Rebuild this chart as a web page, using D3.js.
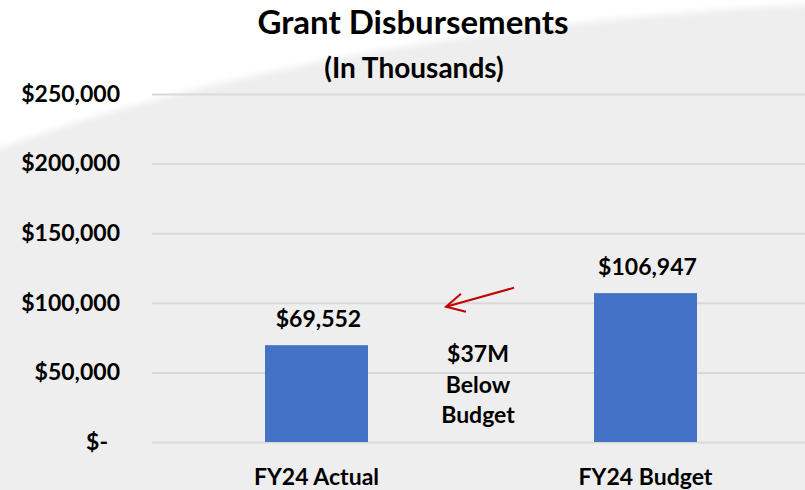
<!DOCTYPE html>
<html>
<head>
<meta charset="utf-8">
<script src="https://cdn.jsdelivr.net/npm/d3@7"></script>
<style>
  html, body { margin: 0; padding: 0; background: #eeeeee; }
  svg { display: block; }
  text { font-family: Lato, "Open Sans", sans-serif; font-weight: bold; fill: #000; }
</style>
</head>
<body>
<div id="output"></div>
<script>
const categories = ["FY24 Actual", "FY24 Budget"];
const values = [69552, 106947];
const tickValues = [0, 50000, 100000, 150000, 200000, 250000];
const noteLines = ["$37M", "Below", "Budget"];

function draw() {
    const w = 805;
    const h = 490;
    const svg = d3.select("#output").append("svg").attr("width", w).attr("height", h);

    // background: grey with a white sweep at the top left
    svg.append("rect").attr("width", w).attr("height", h).style("fill", "#eeeeee");
    const defs = svg.append("defs");
    defs.append("filter").attr("id", "soft")
        .append("feGaussianBlur").attr("stdDeviation", 3);
    svg.append("path")
        .attr("d", "M-10,-10 H815 V4 Q320,30 -10,152 Z")
        .style("fill", "#ffffff")
        .attr("filter", "url(#soft)");

    const y = d3.scaleLinear().domain([0, 250000]).range([442, 94]);
    const x = d3.scalePoint().domain(categories).range([152, 810]).padding(0.5);
    const barWidth = 103;

    const fmt = d => d === 0 ? "$-" : "$" + d3.format(",")(d);

    // gridlines + y labels
    const axis = svg.append("g")
        .attr("transform", "translate(152,0)")
        .call(d3.axisLeft(y).tickValues(tickValues).tickSize(-(w - 152)).tickPadding(32).tickFormat(fmt));
    axis.select(".domain").remove();
    axis.selectAll(".tick line").style("stroke", "#d9d9d9").style("stroke-width", 2);
    axis.selectAll(".tick text")
        .style("font-family", "Lato, sans-serif")
        .style("font-size", "23px")
        .style("font-weight", "bold")
        .style("fill", "#000")
        .attr("dx", d => d === 0 ? -12 : 0);

    // bars
    svg.append("g").selectAll("rect")
        .data(values)
        .join("rect")
        .attr("x", (d, i) => x(categories[i]) - barWidth / 2)
        .attr("width", barWidth)
        .attr("y", d => y(d))
        .attr("height", d => y(0) - y(d))
        .style("fill", "#4472c4");

    // value labels
    svg.append("g").selectAll("text")
        .data(values)
        .join("text")
        .attr("x", (d, i) => x(categories[i]) + 2)
        .attr("y", d => y(d) - 18)
        .style("font-size", "23px")
        .style("text-anchor", "middle")
        .text(d => "$" + d3.format(",")(d));

    // category labels
    svg.append("g").selectAll("text")
        .data(categories)
        .join("text")
        .attr("x", d => x(d))
        .attr("y", 485)
        .style("font-size", "23px")
        .style("text-anchor", "middle")
        .text(d => d);

    // title
    svg.append("text")
        .attr("x", 413).attr("y", 34)
        .style("font-size", "33px")
        .style("text-anchor", "middle")
        .text("Grant Disbursements");
    svg.append("text")
        .attr("x", 414).attr("y", 78)
        .style("font-size", "28px")
        .style("text-anchor", "middle")
        .text("(In Thousands)");

    // annotation between the bars
    const mid = (x(categories[0]) + x(categories[1])) / 2;
    svg.append("g").selectAll("text")
        .data(noteLines)
        .join("text")
        .attr("x", mid - 3)
        .attr("y", (d, i) => 362 + i * 30.5)
        .style("font-size", "23px")
        .style("text-anchor", "middle")
        .text(d => d);

    const x1 = mid + 33, y1 = y(110800);
    const x2 = mid - 35, y2 = y(97200);
    const red = "#c00000";
    svg.append("line")
        .attr("x1", x1).attr("y1", y1).attr("x2", x2).attr("y2", y2)
        .style("stroke", red).style("stroke-width", 2);
    svg.append("path")
        .attr("d", `M${x2 + 15},${y2 - 13} L${x2},${y2} L${x2 + 20},${y2 + 5}`)
        .style("fill", "none").style("stroke", red).style("stroke-width", 2);
}

draw();
</script>
</body>
</html>
